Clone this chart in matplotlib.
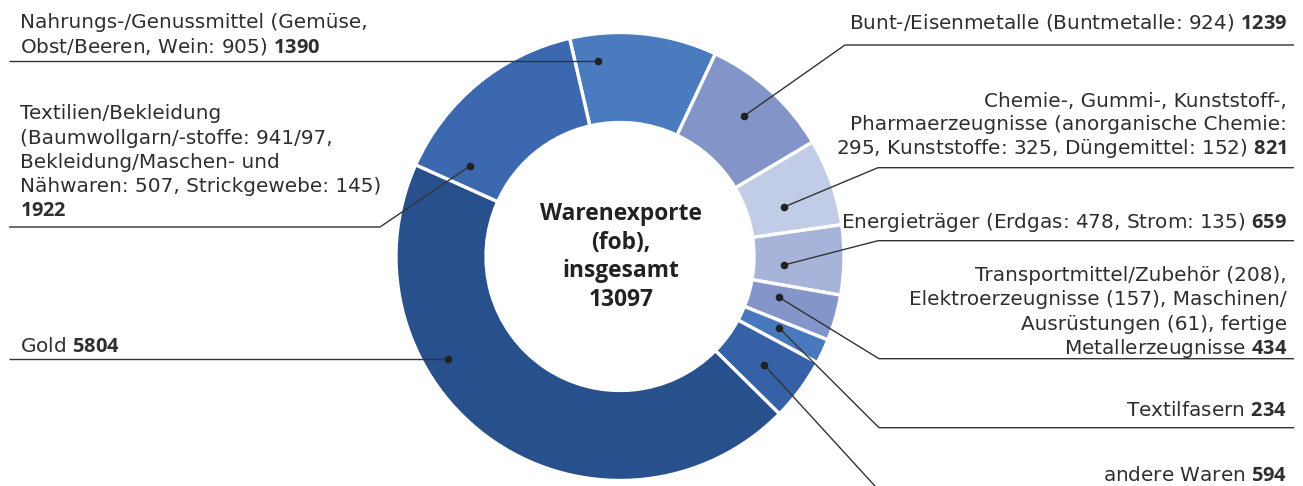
import matplotlib
matplotlib.use("Agg")
import matplotlib.pyplot as plt

# ---------------- data ----------------
categories = [
    "Nahrungs-/Genussmittel", "Bunt-/Eisenmetalle", "Chemie", "Energieträger",
    "Transportmittel", "Textilfasern", "andere Waren", "Gold", "Textilien/Bekleidung",
]
values = [1390, 1239, 821, 659, 434, 234, 594, 5804, 1922]
label_lines = [
    ["Nahrungs-/Genussmittel (Gemüse,", "Obst/Beeren, Wein: 905)"],
    ["Bunt-/Eisenmetalle (Buntmetalle: 924)"],
    ["Chemie-, Gummi-, Kunststoff-,", "Pharmaerzeugnisse (anorganische Chemie:",
     "295, Kunststoffe: 325, Düngemittel: 152)"],
    ["Energieträger (Erdgas: 478, Strom: 135)"],
    ["Transportmittel/Zubehör (208),", "Elektroerzeugnisse (157), Maschinen/",
     "Ausrüstungen (61), fertige", "Metallerzeugnisse"],
    ["Textilfasern"],
    ["andere Waren"],
    ["Gold"],
    ["Textilien/Bekleidung", "(Baumwollgarn/-stoffe: 941/97,", "Bekleidung/Maschen- und",
     "Nähwaren: 507, Strickgewebe: 145)", ""],
]
center_title = ["Warenexporte", "(fob),", "insgesamt"]

# ---------------- style / layout ----------------
colors = ["#4A7BBE", "#8394C8", "#C1CCE6", "#A7B4DA", "#8495CA",
          "#4879BD", "#3761A6", "#27508C", "#3C68B0"]
TXT = "#2e2e2e"
LINE = "#333333"

# layout in pixel coordinates (y measured from top)
sides = ["L", "R", "R", "R", "R", "R", "R", "L", "L"]
baselines = [
    [28, 53], [28.5], [107, 130.5, 154], [228], [281, 305, 329.5, 353.5],
    [416], [481], [352], [119, 143.5, 167.5, 192, 216],
]
leaders = [
    [(9, 61.5), (598, 61.5)],
    [(1294, 45), (845, 45), (744, 116)],
    [(1294, 167.7), (878, 167.7), (784, 207)],
    [(1294, 240.7), (878, 240.7), (784, 265)],
    [(1294, 358.7), (879, 358.7), (779, 297.3)],
    [(1294, 427.7), (879, 427.7), (779, 328)],
    [(1294, 497), (885, 497), (764, 364.7)],
    [(9, 358.5), (448, 358.5)],
    [(9, 227), (380, 227), (470, 166)],
]

W, H = 1303, 486
plt.rcParams["mathtext.fontset"] = "custom"
plt.rcParams["mathtext.rm"] = "DejaVu Sans"
plt.rcParams["mathtext.bf"] = "Open Sans:bold"

fig = plt.figure(figsize=(W / 100, H / 100), dpi=100)
ax = fig.add_axes([0, 0, 1, 1])
ax.pie(values, colors=colors, startangle=103, counterclock=False, radius=224,
       center=(620, H - 256.5),
       wedgeprops=dict(width=90, edgecolor="white", linewidth=2.4))
ax.set_xlim(0, W)
ax.set_ylim(0, H)
ax.set_aspect("auto")
ax.axis("off")

FS = 14.4
for lines, val, side, bls, path in zip(label_lines, values, sides, baselines, leaders):
    for i, (ln, bl) in enumerate(zip(lines, bls)):
        s = ln
        if i == len(lines) - 1:
            s = (ln + " " if ln else "") + r"$\mathbf{" + str(val) + "}$"
        if side == "L":
            ax.text(19.5, H - bl, s, ha="left", va="baseline", fontsize=FS,
                    color=TXT, family="DejaVu Sans")
        else:
            ax.text(1287, H - bl, s, ha="right", va="baseline", fontsize=FS,
                    color=TXT, family="DejaVu Sans")
    xs = [p[0] for p in path]
    ys = [H - p[1] for p in path]
    ax.plot(xs, ys, color=LINE, lw=1.0, solid_capstyle="butt", clip_on=True)
    ax.plot(xs[-1], ys[-1], "o", color="#222222", ms=4.5)

center_lines = center_title + [str(sum(values))]
for i, ln in enumerate(center_lines):
    ax.text(621, H - (214 + 28.5 * i), ln, ha="center", va="center", fontsize=16.4,
            fontweight="bold", color="#222222", family="Open Sans")

fig.savefig("out.png", dpi=100)
